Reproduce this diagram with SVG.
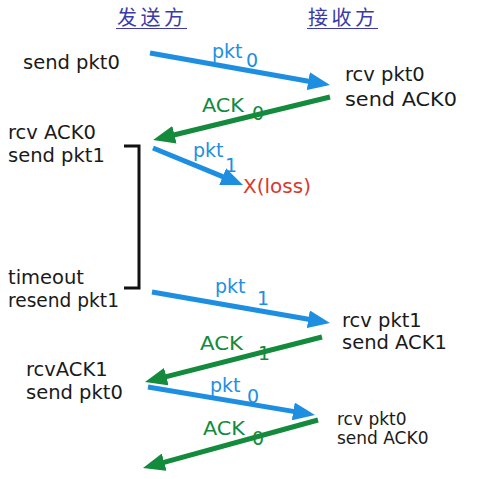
<svg xmlns="http://www.w3.org/2000/svg" width="479" height="479" viewBox="0 0 479 479">
<style>
  .t { font-family: "DejaVu Sans", "Liberation Sans", sans-serif; font-size: 19.5px; fill: #1a1a1a; }
  .s { font-size: 17px; }
  .hdr { font-family: "Noto Sans CJK SC", "Noto Sans", sans-serif; font-size: 20px; letter-spacing: 3.5px; fill: #3a3aa8; }
  .ul { stroke: #3a3aa8; stroke-width: 1.2; }
  .lb { font-family: "DejaVu Sans", "Liberation Sans", sans-serif; font-size: 19px; }
  .blue { fill: #1e8fe0; }
  .green { fill: #138a3c; }
  .red { fill: #d8392a; font-family: "DejaVu Sans", "Liberation Sans", sans-serif; font-size: 20px; }
  .ab { stroke: #1e8fe0; stroke-width: 5; fill: none; marker-end: url(#mb); }
  .ag { stroke: #138a3c; stroke-width: 5; fill: none; marker-end: url(#mg); }
  .br { stroke: #111; stroke-width: 3; fill: none; }
</style>
<defs>
  <marker id="mb" markerUnits="userSpaceOnUse" markerWidth="22" markerHeight="18" refX="6" refY="9" orient="auto">
    <path d="M0,0 L22,9 L0,18 z" fill="#1e8fe0"/>
  </marker>
  <marker id="mg" markerUnits="userSpaceOnUse" markerWidth="22" markerHeight="18" refX="6" refY="9" orient="auto">
    <path d="M0,0 L22,9 L0,18 z" fill="#138a3c"/>
  </marker>
</defs>
<rect width="479" height="479" fill="#ffffff"/>

<g id="sender-header">
  <text class="hdr" x="117" y="25">发送方</text>
  <line class="ul" x1="116" y1="28.5" x2="187" y2="28.5"/>
</g>
<g id="receiver-header">
  <text class="hdr" x="308" y="25">接收方</text>
  <line class="ul" x1="307" y1="28.5" x2="378" y2="28.5"/>
</g>

<g id="s1"><text class="t" x="23" y="69">send pkt0</text></g>
<g id="r1"><text class="t" x="345" y="81">rcv pkt0</text><text class="t" x="345" y="106" textLength="112" lengthAdjust="spacingAndGlyphs">send ACK0</text></g>
<g id="s2"><text class="t" x="8" y="139">rcv ACK0</text><text class="t" x="8" y="162">send pkt1</text></g>
<g id="loss"><text class="red" x="243" y="193">X(loss)</text></g>
<g id="s3"><text class="t" x="8" y="284">timeout</text><text class="t" x="8" y="307" textLength="111" lengthAdjust="spacingAndGlyphs">resend pkt1</text></g>
<g id="r2"><text class="t" x="342" y="327">rcv pkt1</text><text class="t" x="342" y="349">send ACK1</text></g>
<g id="s4"><text class="t" x="26" y="376">rcvACK1</text><text class="t" x="26" y="399">send pkt0</text></g>
<g id="r3"><text class="t s" x="337" y="425">rcv pkt0</text><text class="t s" x="337" y="444">send ACK0</text></g>

<g id="timer">
  <polyline class="br" points="124,146 139,146 139,288 124,288"/>
</g>

<g id="connectors">
  <line class="ab" x1="150" y1="53" x2="314.2" y2="82.2"/>
  <line class="ag" x1="330" y1="97" x2="168.6" y2="136.2"/>
  <line class="ab" x1="153" y1="148" x2="228.2" y2="178.9"/>
  <line class="ab" x1="152" y1="292" x2="314.2" y2="320.3"/>
  <line class="ag" x1="322" y1="337" x2="160.5" y2="378.1"/>
  <line class="ab" x1="148" y1="387" x2="299.2" y2="412.4"/>
  <line class="ag" x1="318" y1="420" x2="158.4" y2="463.8"/>

  <text class="lb blue" x="212" y="58">pkt</text><text class="lb blue" x="246" y="67">0</text>
  <text class="lb green" x="202" y="112" textLength="42" lengthAdjust="spacingAndGlyphs">ACK</text><text class="lb green" x="252" y="120">0</text>
  <text class="lb blue" x="193" y="157">pkt</text><text class="lb blue" x="225" y="172">1</text>
  <text class="lb blue" x="215" y="293">pkt</text><text class="lb blue" x="257" y="305">1</text>
  <text class="lb green" x="200" y="350" textLength="43" lengthAdjust="spacingAndGlyphs">ACK</text><text class="lb green" x="258" y="360">1</text>
  <text class="lb blue" x="210" y="392">pkt</text><text class="lb blue" x="247" y="403">0</text>
  <text class="lb green" x="203" y="435" textLength="42" lengthAdjust="spacingAndGlyphs">ACK</text><text class="lb green" x="252" y="445">0</text>
</g>
</svg>
